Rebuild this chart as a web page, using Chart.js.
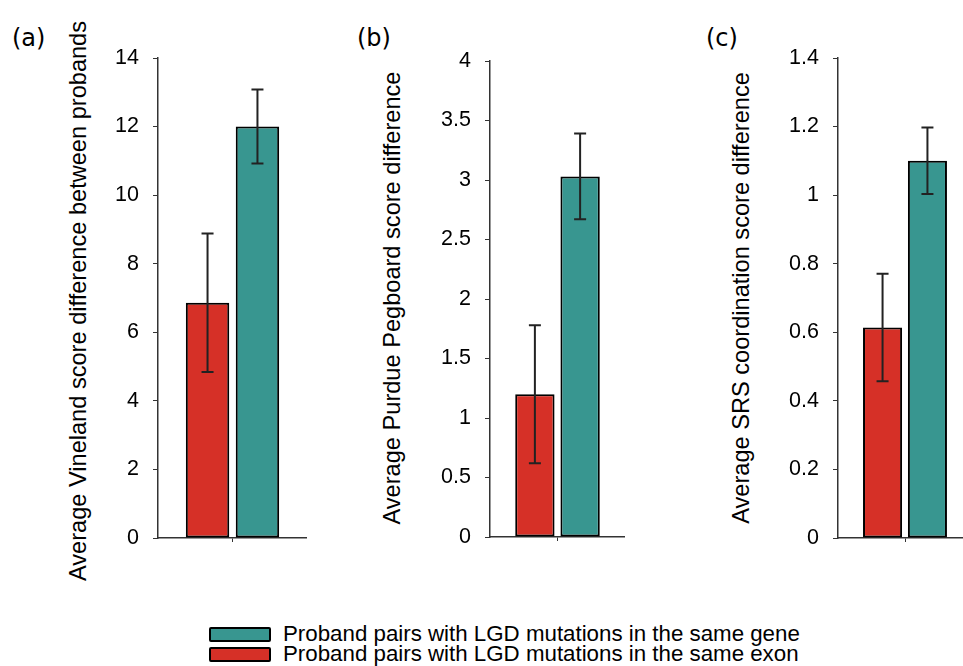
<!DOCTYPE html>
<html lang="en">
<head>
<meta charset="UTF-8">
<title>Score differences between proband pairs</title>
<script src="https://cdn.jsdelivr.net/npm/chart.js"></script>
<style>
    html, body {
        margin: 0;
        padding: 0;
        width: 963px;
        height: 666px;
        overflow: hidden;
        background: #fff;
        font-family: "Liberation Sans", Arial, sans-serif;
    }
    .panel {
        position: absolute;
        top: 0;
        height: 600px;
    }
    .tag {
        position: absolute;
        font-family: "DejaVu Sans", sans-serif;
        font-size: 24px;
        color: #000;
    }
    .ytitle {
        position: absolute;
        white-space: nowrap;
        font-size: 23.6px;
        color: #000;
        transform: translate(-50%, -50%) rotate(-90deg);
    }
    .legend {
        position: absolute;
        left: 209px;
        top: 624px;
        font-size: 22.3px;
        line-height: 20px;
    }
    .legend div {
        display: flex;
        align-items: center;
        height: 20px;
    }
    .legend span.sw {
        display: inline-block;
        width: 58px;
        height: 11px;
        border: 2px solid #000;
        border-radius: 2px;
        margin-right: 12px;
    }
</style>
</head>
<body>

<div class="tag" style="left:12px; top:24px;">(a)</div>
<div class="tag" style="left:357px; top:24px;">(b)</div>
<div class="tag" style="left:706px; top:24px;">(c)</div>

<div class="ytitle" style="left:78px; top:301px;">Average Vineland score difference between probands</div>
<div class="ytitle" style="left:392px; top:298px;">Average Purdue Pegboard score difference</div>
<div class="ytitle" style="left:741px; top:298px;">Average SRS coordination score difference</div>

<canvas id="chartA" class="panel"></canvas>
<canvas id="chartB" class="panel"></canvas>
<canvas id="chartC" class="panel"></canvas>

<div class="legend">
    <div><span class="sw" style="background:#389690"></span>Proband pairs with LGD mutations in the same gene</div>
    <div><span class="sw" style="background:#d63027"></span>Proband pairs with LGD mutations in the same exon</div>
</div>

<script>
    // one bar pair per panel
    const panels = ['(a)', '(b)', '(c)'];
    const exonLabel = 'Proband pairs with LGD mutations in the same exon';
    const geneLabel = 'Proband pairs with LGD mutations in the same gene';

    const exonMeans = [6.86, 1.20, 0.614];
    const exonErr = [2.02, 0.58, 0.157];
    const geneMeans = [12.0, 3.03, 1.10];
    const geneErr = [1.08, 0.36, 0.097];

    const yMax = [14, 4, 1.4];
    const yStep = [2, 0.5, 0.2];
    const tickLabels = [
        ['0', '2', '4', '6', '8', '10', '12', '14'],
        ['0', '0.5', '1', '1.5', '2', '2.5', '3', '3.5', '4'],
        ['0', '0.2', '0.4', '0.6', '0.8', '1', '1.2', '1.4']
    ];

    const exonColor = '#d63027';
    const geneColor = '#389690';

    // where each plot area sits on the page
    const boxes = [
        { left: 158, right: 307, top: 58, bottom: 538 },
        { left: 490, right: 625, top: 61, bottom: 537 },
        { left: 838, right: 972, top: 58, bottom: 538 }
    ];
    const yAxisWidth = 60;
    const xAxisHeight = 10;
    const canvasHeight = 600;

    Chart.defaults.font.family = '"Liberation Sans", Arial, sans-serif';
    Chart.defaults.color = '#000';

    const errorBars = {
        id: 'errorBars',
        afterDatasetsDraw(chart) {
            const ctx = chart.ctx;
            const y = chart.scales.y;
            ctx.save();
            ctx.strokeStyle = '#222';
            ctx.lineWidth = 2;
            chart.data.datasets.forEach((ds, di) => {
                const meta = chart.getDatasetMeta(di);
                meta.data.forEach((bar, i) => {
                    const v = ds.data[i];
                    const e = ds.errors[i];
                    const top = y.getPixelForValue(v + e);
                    const bot = y.getPixelForValue(v - e);
                    const cap = 6;
                    ctx.beginPath();
                    ctx.moveTo(bar.x, top);
                    ctx.lineTo(bar.x, bot);
                    ctx.moveTo(bar.x - cap, top);
                    ctx.lineTo(bar.x + cap, top);
                    ctx.moveTo(bar.x - cap, bot);
                    ctx.lineTo(bar.x + cap, bot);
                    ctx.stroke();
                });
            });
            ctx.restore();
        }
    };

    function drawPanel(id, i) {
        const box = boxes[i];
        const canvas = document.getElementById(id);
        const left = box.left - yAxisWidth;
        const width = box.right - left;
        canvas.style.left = left + 'px';
        canvas.style.width = width + 'px';
        canvas.style.height = canvasHeight + 'px';
        canvas.width = width;
        canvas.height = canvasHeight;

        new Chart(canvas, {
            type: 'bar',
            data: {
                labels: [panels[i]],
                datasets: [
                    {
                        label: exonLabel,
                        data: [exonMeans[i]],
                        errors: [exonErr[i]],
                        backgroundColor: exonColor,
                        borderColor: '#000',
                        borderWidth: 2,
                        borderSkipped: false
                    },
                    {
                        label: geneLabel,
                        data: [geneMeans[i]],
                        errors: [geneErr[i]],
                        backgroundColor: geneColor,
                        borderColor: '#000',
                        borderWidth: 2,
                        borderSkipped: false
                    }
                ]
            },
            options: {
                responsive: false,
                animation: false,
                categoryPercentage: 0.67,
                barPercentage: 0.87,
                layout: {
                    padding: {
                        left: 0,
                        right: 0,
                        top: box.top,
                        bottom: canvasHeight - box.bottom - xAxisHeight
                    }
                },
                plugins: {
                    legend: { display: false },
                    tooltip: { enabled: false }
                },
                scales: {
                    x: {
                        offset: true,
                        grid: {
                            offset: false,
                            drawOnChartArea: false,
                            drawTicks: true,
                            tickLength: 4,
                            color: '#333',
                            lineWidth: 1
                        },
                        border: { color: '#333', width: 1.5 },
                        ticks: { display: false },
                        afterFit: s => { s.height = xAxisHeight; }
                    },
                    y: {
                        min: 0,
                        max: yMax[i],
                        ticks: {
                            stepSize: yStep[i],
                            padding: 14,
                            font: { size: 21.5 },
                            color: '#000',
                            callback: (v, idx) => tickLabels[i][idx]
                        },
                        grid: {
                            drawOnChartArea: false,
                            drawTicks: true,
                            tickLength: 5,
                            color: '#333',
                            lineWidth: 1
                        },
                        border: { color: '#333', width: 1.5 },
                        afterFit: s => { s.width = yAxisWidth; }
                    }
                }
            },
            plugins: [errorBars]
        });
    }

    drawPanel('chartA', 0);
    drawPanel('chartB', 1);
    drawPanel('chartC', 2);
</script>
</body>
</html>
